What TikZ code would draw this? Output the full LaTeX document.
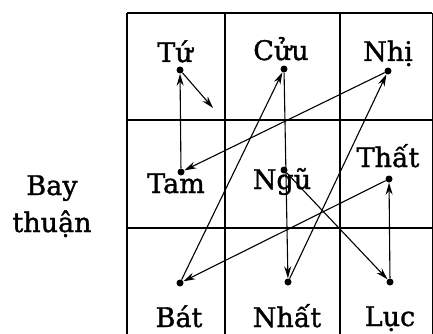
\documentclass[tikz,border=0pt]{standalone}
\usepackage{fontspec}
\setmainfont{DejaVu Serif}[FakeBold=1.2]
\usetikzlibrary{arrows.meta}
\begin{document}
\begin{tikzpicture}[x=1pt,y=-1pt,
  gridline/.style={line width=1.1pt},
  dot/.style={circle,fill=black,inner sep=0pt,minimum size=7pt},
  flow/.style={line width=1.1pt,-{Stealth[length=12pt,width=7pt]}},
  lbl/.style={anchor=base,inner sep=0pt,font=\fontsize{27}{30}\selectfont}]
\useasboundingbox (0,0) rectangle (433,334);
% grid
\draw[line width=1.8pt] (127,13) -- (432,13);
\draw[gridline] (127,120) -- (432,120);
\draw[gridline] (127,228) -- (432,228);
\draw[gridline] (127,13) -- (127,334);
\draw[gridline] (225,13) -- (225,334);
\draw[gridline] (340,13) -- (340,334);
\draw[line width=0.6pt] (432,13) -- (432,334);
% labels
\node[lbl] (lTu)   at (175,62)  {Tứ};
\node[lbl] (lCuu)  at (281,60)  {Cửu};
\node[lbl] (lNhi)  at (388,61)  {Nhị};
\node[lbl] (lTam)  at (176,193) {Tam};
\node[lbl] (lNgu)  at (282,189) {Ngũ};
\node[lbl] (lThat) at (388,167) {Thất};
\node[lbl] (lBat)  at (179,327) {Bát};
\node[lbl] (lNhat) at (287,327) {Nhất};
\node[lbl] (lLuc)  at (390,326) {Lục};
\node[lbl] (lBay)  at (52,195)  {Bay};
\node[lbl] (lThuan) at (52,232) {thuận};
% dots
\node[dot] (Tu)   at (180,70)  {};
\node[dot] (Cuu)  at (284,69)  {};
\node[dot] (Nhi)  at (388,71)  {};
\node[dot] (Tam)  at (181,172) {};
\node[dot] (Ngu)  at (284,170) {};
\node[dot] (That) at (389,179) {};
\node[dot] (Bat)  at (180,283) {};
\node[dot] (Nhat) at (288,282) {};
\node[dot] (Luc)  at (390,282) {};
\coordinate (TuEnd) at (213,108);
% flying path
\draw[flow] (Ngu) -- (Luc);
\draw[flow] (Luc) -- (That);
\draw[flow] (That) -- (Bat);
\draw[flow] (Bat) -- (Cuu);
\draw[flow] (Cuu) -- (Nhat);
\draw[flow] (Nhat) -- (Nhi);
\draw[flow] (Nhi) -- (Tam);
\draw[flow] (Tam) -- (Tu);
\draw[flow] (Tu) -- (TuEnd);
\end{tikzpicture}
\end{document}
